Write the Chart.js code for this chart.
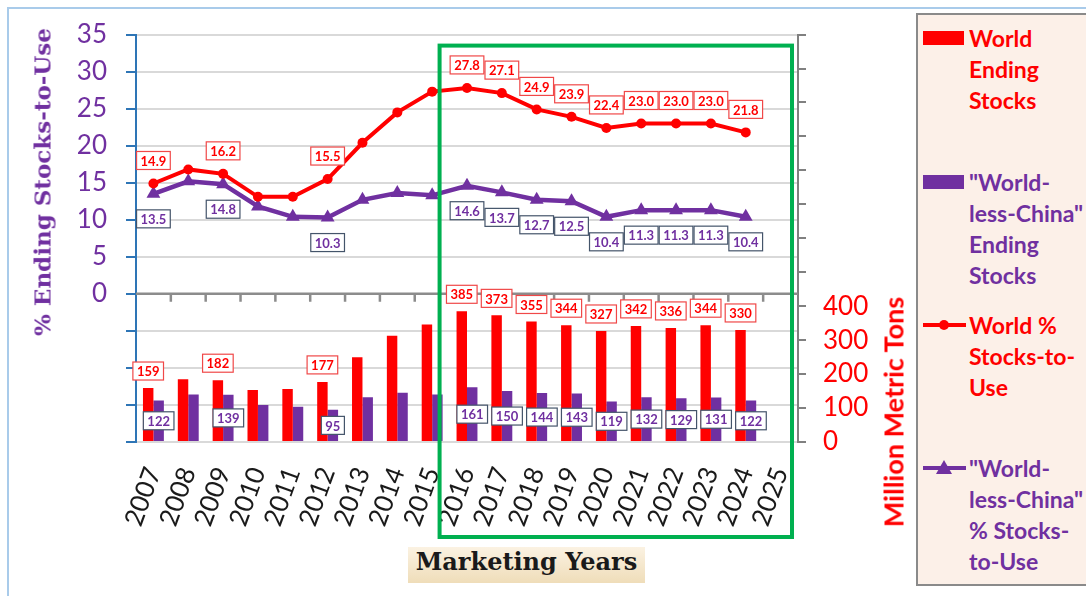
<!DOCTYPE html>
<html>
<head>
<meta charset="utf-8">
<script src="https://cdn.jsdelivr.net/npm/chart.js@4.4.1/dist/chart.umd.min.js"></script>
<style>
  body { margin: 0; background: #fff; }
  #wrap { position: relative; width: 1086px; height: 596px; overflow: hidden; font-family: Lato, sans-serif; }
  #frame { position: absolute; left: 7px; top: 7px; width: 1200px; height: 700px;
           border-left: 2px solid #A9CBEA; border-top: 2px solid #A9CBEA; }
  canvas { position: absolute; left: 0; top: 0; }
  .rot { position: absolute; white-space: nowrap; transform: translate(-50%, -50%) rotate(-90deg); }
  #ytitle { left: 42px; top: 182px; font: bold 23px "DejaVu Serif", serif; color: #7030A0; }
  #y2title { left: 893px; top: 412px; font: bold 27px Lato, sans-serif; color: #FF0000; }
  #xtitle { position: absolute; left: 408px; top: 547px; width: 237px; height: 36px; line-height: 36px;
            text-align: center; font: bold 24px "DejaVu Serif", serif; color: #1a1a1a;
            background: linear-gradient(to bottom, #FBF2E2, #EFDDB9); }
  #legend { position: absolute; left: 916px; top: 13px; width: 200px; height: 569px;
            border: 2px solid #8a8a8a; background: #FCF0E8; }
  .item { position: absolute; left: 51px; font: bold 23px Lato, sans-serif; line-height: 31.3px; white-space: nowrap; }
  .sw { position: absolute; left: 5px; }
</style>
</head>
<body>
<div id="wrap">
  <div id="frame"></div>
  <canvas id="chart" width="1086" height="596"></canvas>
  <div id="ytitle" class="rot">% Ending Stocks-to-Use</div>
  <div id="y2title" class="rot">Million Metric Tons</div>
  <div id="xtitle">Marketing Years</div>
  <div id="legend"></div>
</div>
<script>
const years = ['2007', '2008', '2009', '2010', '2011', '2012', '2013', '2014', '2015', '2016',
               '2017', '2018', '2019', '2020', '2021', '2022', '2023', '2024', '2025'];

// ending stocks, million metric tons
const worldStocks = [159, 185, 182, 153, 156, 177, 250, 313, 346, 385, 373, 355, 344, 327, 342, 336, 344, 330, null];
const wlcStocks = [122, 140, 139, 109, 104, 95, 132, 145, 140, 161, 150, 144, 143, 119, 132, 129, 131, 122, null];

// % stocks-to-use
const worldPct = [14.9, 16.8, 16.2, 13.1, 13.1, 15.5, 20.4, 24.5, 27.3, 27.8, 27.1, 24.9, 23.9, 22.4, 23.0, 23.0, 23.0, 21.8, null];
const wlcPct = [13.5, 15.2, 14.8, 11.8, 10.4, 10.3, 12.7, 13.6, 13.3, 14.6, 13.7, 12.7, 12.5, 10.4, 11.3, 11.3, 11.3, 10.4, null];

// years that carry a value box
const labelledYears = ['2007', '2009', '2012', '2016', '2017', '2018', '2019', '2020', '2021', '2022', '2023', '2024'];

// axis ranges
const pctMin = -20, pctMax = 35, pctStep = 5;
const tonsMax = 1200, tonsStep = 100, tonsLabelMax = 400;

const RED = '#FF0000';
const PURPLE = '#7030A0';
const SLATE = '#44546A';

const legendItems = [
  { lines: ['World', 'Ending', 'Stocks'], color: RED, kind: 'bar' },
  { lines: ['"World-', 'less-China"', 'Ending', 'Stocks'], color: PURPLE, kind: 'bar' },
  { lines: ['World %', 'Stocks-to-', 'Use'], color: RED, kind: 'circle' },
  { lines: ['"World-', 'less-China"', '% Stocks-', 'to-Use'], color: PURPLE, kind: 'triangle' }
];

// boxed value labels
const boxLabels = {
  id: 'boxLabels',
  afterDatasetsDraw(chart) {
    const ctx = chart.ctx;
    ctx.save();
    ctx.font = 'bold 13px Lato, sans-serif';
    ctx.textAlign = 'center';
    ctx.textBaseline = 'middle';
    chart.data.datasets.forEach((ds, di) => {
      const meta = chart.getDatasetMeta(di);
      meta.data.forEach((el, i) => {
        const v = ds.data[i];
        if (v == null || !labelledYears.includes(years[i])) return;
        const txt = ds.type === 'line' ? v.toFixed(1) : String(v);
        let y;
        if (ds.boxPos === 'above') y = el.y - 23;
        else if (ds.boxPos === 'below') y = el.y + 25;
        else if (ds.boxPos === 'barTop') y = el.y - 17;
        else y = (el.y + el.base) / 2;
        const w = ctx.measureText(txt).width + 8, h = 18;
        ctx.fillStyle = '#fff';
        ctx.fillRect(el.x - w / 2, y - h / 2, w, h);
        ctx.strokeStyle = ds.boxBorder;
        ctx.lineWidth = 1.2;
        ctx.strokeRect(el.x - w / 2, y - h / 2, w, h);
        ctx.fillStyle = ds.boxText;
        ctx.fillText(txt, el.x, y + 1);
      });
    });
    ctx.restore();
  }
};

// the 0 line across the plot with category tick marks hanging down
const zeroAxis = {
  id: 'zeroAxis',
  beforeDatasetsDraw(chart) {
    const { ctx, chartArea, scales } = chart;
    const x = scales.x, y0 = scales.y.getPixelForValue(0);
    ctx.save();
    ctx.strokeStyle = '#8C8C8C';
    ctx.lineWidth = 2.5;
    ctx.beginPath();
    ctx.moveTo(chartArea.left, y0);
    ctx.lineTo(chartArea.right, y0);
    for (let i = 1; i < years.length; i++) {
      const xb = (x.getPixelForValue(i - 1) + x.getPixelForValue(i)) / 2;
      ctx.moveTo(xb, y0);
      ctx.lineTo(xb, y0 + 8);
    }
    ctx.stroke();
    ctx.restore();
  }
};

// green highlight box around 2016 onward
const highlight = {
  id: 'highlight',
  afterDraw(chart) {
    const { ctx, chartArea, scales } = chart;
    const x = scales.x;
    const half = (x.getPixelForValue(1) - x.getPixelForValue(0)) / 2;
    const left = x.getPixelForValue(years.indexOf('2016')) - half - 10;
    const right = chartArea.right - 6;
    ctx.save();
    ctx.strokeStyle = '#00B050';
    ctx.lineWidth = 4;
    ctx.strokeRect(left, chartArea.top + 11, right - left, chartArea.bottom + 95 - chartArea.top - 11);
    ctx.restore();
  }
};

const chart = new Chart(document.getElementById('chart'), {
  data: {
    labels: years,
    datasets: [
      {
        type: 'line', label: 'World % Stocks-to-Use', data: worldPct, yAxisID: 'y', order: 0,
        borderColor: RED, backgroundColor: RED, borderWidth: 4,
        pointRadius: 5, pointBackgroundColor: RED, pointBorderWidth: 0,
        boxPos: 'above', boxBorder: '#F04848', boxText: RED
      },
      {
        type: 'line', label: '"World-less-China" % Stocks-to-Use', data: wlcPct, yAxisID: 'y', order: 1,
        borderColor: PURPLE, backgroundColor: PURPLE, borderWidth: 4.5,
        pointStyle: 'triangle', pointRadius: 8, pointBackgroundColor: PURPLE, pointBorderWidth: 0,
        boxPos: 'below', boxBorder: SLATE, boxText: PURPLE
      },
      {
        type: 'bar', label: 'World Ending Stocks', data: worldStocks, yAxisID: 'y2', order: 2,
        backgroundColor: RED, categoryPercentage: 0.6, barPercentage: 1.0,
        boxPos: 'barTop', boxBorder: '#F04848', boxText: RED
      },
      {
        type: 'bar', label: '"World-less-China" Ending Stocks', data: wlcStocks, yAxisID: 'y2', order: 3,
        backgroundColor: PURPLE, categoryPercentage: 0.6, barPercentage: 1.0,
        boxPos: 'barMid', boxBorder: SLATE, boxText: PURPLE
      }
    ]
  },
  options: {
    responsive: false,
    animation: false,
    layout: { padding: { left: 0, right: 0, top: 24, bottom: 0 } },
    plugins: {
      legend: { display: false },
      tooltip: { enabled: false }
    },
    scales: {
      x: {
        offset: true,
        grid: { display: false, drawTicks: false },
        border: { display: false },
        ticks: {
          autoSkip: false, minRotation: 70, maxRotation: 70, padding: 21,
          color: '#1a1a1a', font: { family: 'Lato', size: 26 }
        },
        afterFit: s => { s.height = 154; }
      },
      y: {
        position: 'left', min: pctMin, max: pctMax,
        border: { display: true, color: '#2E75B6', width: 2 },
        grid: { color: '#D9D9D9', lineWidth: 2, tickColor: '#2E75B6', tickLength: 10 },
        ticks: {
          autoSkip: false, stepSize: pctStep, padding: 19, color: PURPLE,
          font: { family: 'Lato', size: 26 },
          callback: v => (v >= 0 ? v : '')
        },
        afterFit: s => { s.width = 136; }
      },
      y2: {
        position: 'right', min: 0, max: tonsMax,
        border: { display: true, color: '#808080', width: 2 },
        grid: { drawOnChartArea: false, color: '#808080', lineWidth: 2, tickLength: 8 },
        ticks: {
          autoSkip: false, stepSize: tonsStep, padding: 17, color: RED,
          font: { family: 'Lato', size: 26 },
          callback: v => (v <= tonsLabelMax ? v : '')
        },
        afterFit: s => { s.width = 288; }
      }
    }
  },
  plugins: [zeroAxis, boxLabels, highlight]
});

// legend box built from the items above
const legend = document.getElementById('legend');
const itemTops = [7.5, 151.5, 294.5, 437.5];
legendItems.forEach((it, k) => {
  const d = document.createElement('div');
  d.className = 'item';
  d.style.top = itemTops[k] + 'px';
  d.style.color = it.color;
  d.innerHTML = it.lines.join('<br>');
  legend.appendChild(d);
  const cy = itemTops[k] + 15.6;
  if (it.kind === 'bar') {
    const s = document.createElement('div');
    s.className = 'sw';
    s.style.cssText += `top:${cy - 7}px;width:41px;height:14px;background:${it.color}`;
    legend.appendChild(s);
  } else {
    const l = document.createElement('div');
    l.className = 'sw';
    l.style.cssText += `top:${cy - 2}px;width:43px;height:4px;background:${it.color}`;
    legend.appendChild(l);
    const m = document.createElement('div');
    m.className = 'sw';
    if (it.kind === 'circle') {
      m.style.cssText += `left:21px;top:${cy - 5}px;width:10px;height:10px;border-radius:50%;background:${it.color}`;
    } else {
      m.style.cssText += `left:18px;top:${cy - 8}px;width:0;height:0;border-left:8px solid transparent;` +
        `border-right:8px solid transparent;border-bottom:14px solid ${it.color}`;
    }
    legend.appendChild(m);
  }
});
</script>
</body>
</html>
